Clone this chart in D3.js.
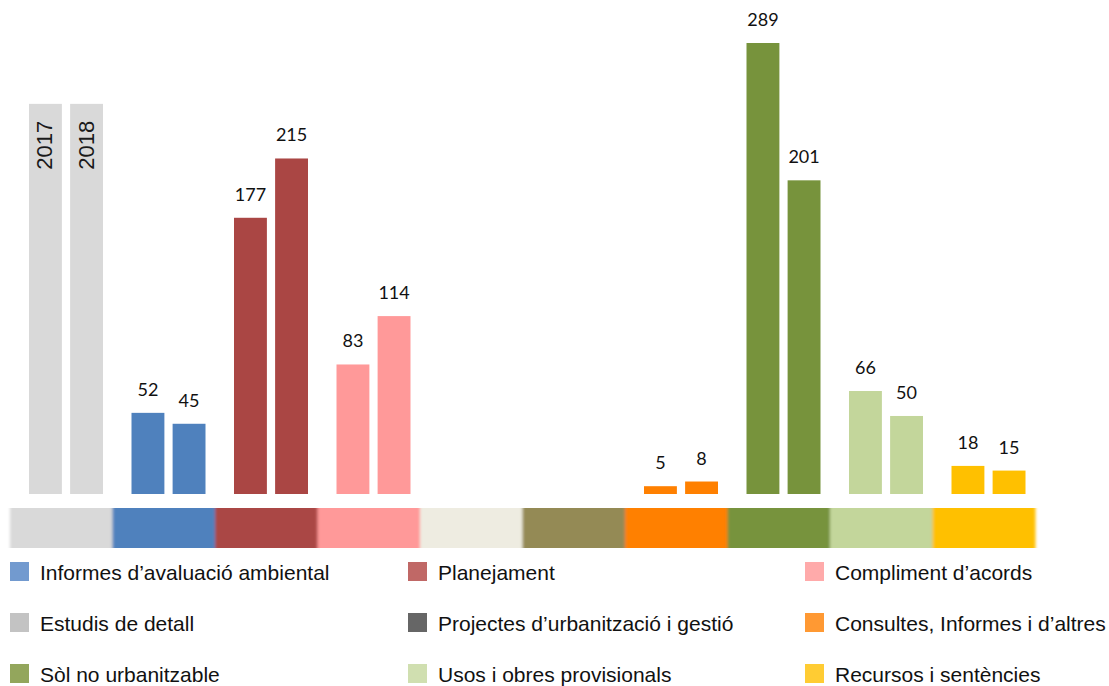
<!DOCTYPE html>
<html>
<head>
<meta charset="utf-8">
<script src="https://cdn.jsdelivr.net/npm/d3@7"></script>
<style>
  body { margin: 0; background: #fff; }
  svg { display: block; }
</style>
</head>
<body>
<script>
const categories = ['Anys', 'Informes', 'Planejament', 'Compliment', 'Estudis', 'Projectes',
  'Consultes', 'Sol', 'Usos', 'Recursos'];
const years = ['2017', '2018'];
const values2017 = [null, 52, 177, 83, null, null, 5, 289, 66, 18];
const values2018 = [null, 45, 215, 114, null, null, 8, 201, 50, 15];
const yearBarValue = 250;
const barColors = ['#d9d9d9', '#4f81bd', '#aa4644', '#ff9999', '#eeece1', '#948a54',
  '#ff8000', '#77933c', '#c3d69b', '#ffc000'];

const legendLabels = [
  'Informes d’avaluació ambiental', 'Planejament', 'Compliment d’acords',
  'Estudis de detall', 'Projectes d’urbanització i gestió', 'Consultes, Informes i d’altres',
  'Sòl no urbanitzable', 'Usos i obres provisionals', 'Recursos i sentències'
];
const legendColors = ['#729acf', '#c06866', '#ffaaaa', '#c3c3c3', '#666666', '#ff9933',
  '#93a65c', '#d0dfb0', '#ffcc33'];

const w = 1109, h = 686;
const base = 494;

const svg = d3.select('body').append('svg')
  .attr('width', w)
  .attr('height', h);

const defs = svg.append('defs');
defs.append('filter')
  .attr('id', 'soft')
  .attr('x', '-5%').attr('width', '110%')
  .append('feGaussianBlur')
  .attr('stdDeviation', '1.6 0.4');

const x = d3.scaleBand()
  .domain(categories)
  .range([10, 1035]);

const xIn = d3.scaleBand()
  .domain(years)
  .range([19, 93])
  .paddingInner(0.2);

const y = d3.scaleLinear()
  .domain([0, 289])
  .range([base, 43]);

// colour strip under the bars
svg.append('g')
  .attr('filter', 'url(#soft)')
  .selectAll('rect')
  .data(categories)
  .enter()
  .append('rect')
  .attr('x', d => x(d))
  .attr('y', 508)
  .attr('width', x.bandwidth() + 0.5)
  .attr('height', 40)
  .attr('fill', (d, i) => barColors[i]);

// grey year bars in the first slot
const yearG = svg.append('g')
  .attr('transform', `translate(${x(categories[0])},0)`);

yearG.selectAll('rect')
  .data(years)
  .enter()
  .append('rect')
  .attr('x', d => xIn(d))
  .attr('y', y(yearBarValue))
  .attr('width', xIn.bandwidth())
  .attr('height', base - y(yearBarValue))
  .attr('fill', '#d9d9d9');

yearG.selectAll('text')
  .data(years)
  .enter()
  .append('text')
  .attr('transform', d => `translate(${xIn(d) + xIn.bandwidth() / 2 + 7},${y(yearBarValue) + 17}) rotate(-90)`)
  .attr('text-anchor', 'end')
  .style('font-family', 'Liberation Sans, Arial, sans-serif')
  .style('font-size', '22px')
  .style('fill', '#1a1a1a')
  .text(d => d);

// data bars
const rows = [];
categories.forEach((c, i) => {
  if (values2017[i] != null) rows.push({ cat: c, year: '2017', v: values2017[i], col: barColors[i] });
  if (values2018[i] != null) rows.push({ cat: c, year: '2018', v: values2018[i], col: barColors[i] });
});

svg.append('g')
  .selectAll('rect')
  .data(rows)
  .enter()
  .append('rect')
  .attr('x', d => x(d.cat) + xIn(d.year))
  .attr('y', d => y(d.v))
  .attr('width', xIn.bandwidth())
  .attr('height', d => base - y(d.v))
  .attr('fill', d => d.col);

svg.append('g')
  .selectAll('text')
  .data(rows)
  .enter()
  .append('text')
  .attr('x', d => x(d.cat) + xIn(d.year) + xIn.bandwidth() / 2)
  .attr('y', d => y(d.v) - 17)
  .attr('text-anchor', 'middle')
  .style('font-family', 'Lato, Open Sans, sans-serif')
  .style('font-size', '18px')
  .style('fill', '#111')
  .text(d => d.v);

// legend
const legend = svg.append('g')
  .selectAll('g')
  .data(legendLabels)
  .enter()
  .append('g')
  .attr('transform', (d, i) => `translate(${[10, 408, 805][i % 3]},${562 + Math.floor(i / 3) * 51})`);

legend.append('rect')
  .attr('width', 19)
  .attr('height', 19)
  .attr('fill', (d, i) => legendColors[i]);

legend.append('text')
  .attr('x', 30)
  .attr('y', 18)
  .style('font-family', 'Liberation Sans, Arial, sans-serif')
  .style('font-size', '21px')
  .style('fill', '#111')
  .text(d => d);
</script>
</body>
</html>
